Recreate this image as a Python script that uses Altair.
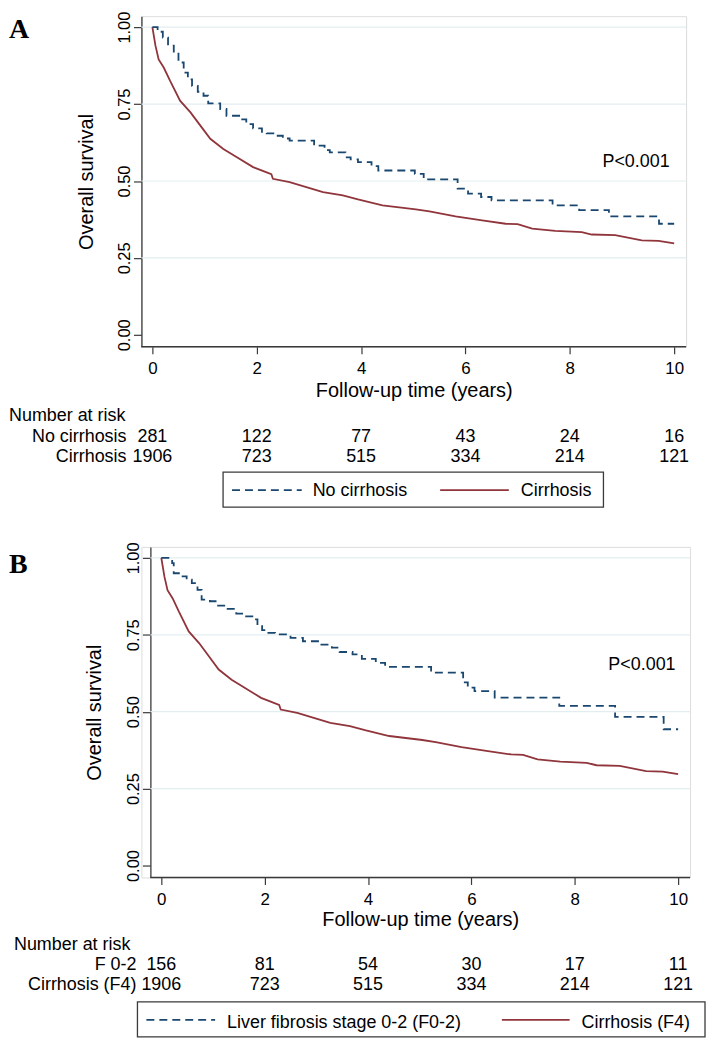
import altair as alt
import pandas as pd

# ---------------- data ----------------
years = [0, 2, 4, 6, 8, 10]
y_ticks = [0.0, 0.25, 0.5, 0.75, 1.0]
grid_levels = [0.25, 0.5, 0.75, 1.0]

# Cirrhosis (same curve in both panels)
cirr_t = [0, 0.06, 0.12, 0.22, 0.34, 0.53, 0.73, 0.92, 1.11, 1.36, 1.62, 1.93, 2.19,
          2.28, 2.31, 2.63, 2.95, 3.27, 3.65, 3.94, 4.41, 5.05, 5.31, 5.81, 6.32,
          6.77, 7.0, 7.28, 7.72, 8.23, 8.42, 8.87, 9.38, 9.7, 10.0]
cirr_s = [1.0, 0.939, 0.895, 0.868, 0.825, 0.761, 0.723, 0.680, 0.637, 0.604, 0.577,
          0.545, 0.528, 0.522, 0.507, 0.496, 0.480, 0.464, 0.453, 0.440, 0.421, 0.408,
          0.401, 0.385, 0.372, 0.361, 0.360, 0.345, 0.338, 0.334, 0.326, 0.324, 0.307,
          0.305, 0.297]

# No cirrhosis (panel A)
nocirr_t = [0, 0.1, 0.2, 0.3, 0.41, 0.5, 0.6, 0.68, 0.76, 0.87, 0.98, 1.07, 1.30, 1.42,
            1.70, 1.80, 1.93, 2.10, 2.19, 2.38, 2.50, 2.63, 3.10, 3.30, 3.40, 3.70,
            3.80, 3.94, 4.20, 4.33, 5.03, 5.20, 5.85, 6.05, 6.30, 6.50, 7.67, 8.18,
            8.75, 9.71, 10.0]
nocirr_s = [1.0, 0.985, 0.966, 0.940, 0.917, 0.885, 0.852, 0.830, 0.809, 0.790, 0.777,
            0.752, 0.734, 0.712, 0.700, 0.685, 0.671, 0.660, 0.655, 0.647, 0.638, 0.631,
            0.615, 0.600, 0.593, 0.577, 0.570, 0.561, 0.548, 0.534, 0.523, 0.505, 0.475,
            0.459, 0.448, 0.437, 0.421, 0.405, 0.385, 0.361, 0.361]

# Liver fibrosis stage 0-2 (panel B)
f02_t = [0, 0.21, 0.24, 0.37, 0.49, 0.59, 0.70, 0.78, 0.94, 1.05, 1.25, 1.45, 1.62,
         1.80, 1.86, 1.95, 2.04, 2.20, 2.50, 2.74, 3.05, 3.30, 3.45, 3.70, 3.88, 4.15,
         4.33, 5.22, 5.84, 5.93, 6.06, 6.45, 7.70, 8.78, 9.72, 10.0]
f02_s = [1.0, 0.983, 0.950, 0.940, 0.929, 0.918, 0.896, 0.864, 0.859, 0.845, 0.834,
         0.819, 0.810, 0.800, 0.778, 0.765, 0.756, 0.751, 0.740, 0.729, 0.718, 0.708,
         0.694, 0.686, 0.672, 0.659, 0.646, 0.627, 0.595, 0.578, 0.567, 0.546, 0.519,
         0.483, 0.443, 0.443]

risk_nocirr = [281, 122, 77, 43, 24, 16]
risk_f02 = [156, 81, 54, 30, 17, 11]
risk_cirr = [1906, 723, 515, 334, 214, 121]

# ---------------- styles ----------------
BLUE = "#1A476F"
RED = "#90353B"
AXC = "#3a3a3a"
GRID = "#E3EDF0"
FONT = "Liberation Sans"
DASH = [8, 5]
YDOM = [-0.0388, 1.0356]


def one(**kw):
    return pd.DataFrame([kw])


def panel(letter, width, height, xdom, yshift, curve_t, curve_s, curve_name, risk_top,
          row_labels, p_pos, g):
    xs = alt.Scale(domain=xdom, nice=False, zero=False)
    ys = alt.Scale(domain=YDOM, nice=False, zero=False)
    xaxis = alt.Axis(values=years, format="d", labelFontSize=17, labelColor="black",
                     labelFont=FONT, tickSize=7, tickColor=AXC, tickWidth=1.2,
                     domain=False, labelPadding=7, grid=False,
                     labelFlush=False, labelAngle=0, title="Follow-up time (years)",
                     titleFontSize=20, titleFontWeight="normal", titleColor="black",
                     titleFont=FONT, titleX=(width + yshift) / 2, titleY=g["xtitleY"],
                     titleAlign="center", titleBaseline="alphabetic")
    yaxis = alt.Axis(values=y_ticks, format=".2f", labelFontSize=16.5, labelColor="black",
                     labelFont=FONT, labelAngle=270, labelAlign="center",
                     labelBaseline="bottom", tickSize=8, tickColor=AXC, tickWidth=1.2,
                     domainColor=AXC, domainWidth=1.3, labelPadding=1, grid=False,
                     labelFlush=False, offset=-yshift, title="Overall survival",
                     titleFontSize=20, titleFontWeight="normal", titleColor="black",
                     titleFont=FONT, titleAngle=270, titleX=g["ytitleX"],
                     titleY=height / 2, titleAlign="center", titleBaseline="alphabetic")

    def X(f="t"):
        return alt.X(f"{f}:Q", scale=xs, axis=xaxis)

    def Y(f="s"):
        return alt.Y(f"{f}:Q", scale=ys, axis=yaxis)

    grid = alt.Chart(pd.DataFrame({"s": grid_levels})).mark_rule(
        color=GRID, strokeWidth=1.2).encode(y=Y(), x=alt.value(yshift), x2=alt.value(width))

    xline = alt.Chart(one(k=0)).mark_rule(color=AXC, strokeWidth=1.3).encode(
        x=alt.value(yshift), x2=alt.value(width), y=alt.value(height))

    cirr = alt.Chart(pd.DataFrame({"t": cirr_t, "s": cirr_s})).mark_line(
        color=RED, strokeWidth=1.8, interpolate="linear").encode(x=X(), y=Y())
    other = alt.Chart(pd.DataFrame({"t": curve_t, "s": curve_s})).mark_line(
        color=BLUE, strokeWidth=1.8, strokeDash=DASH, interpolate="step-after"
    ).encode(x=X(), y=Y())

    ptext = alt.Chart(one(t=p_pos[0], s=p_pos[1], lab="P<0.001")).mark_text(
        fontSize=18, font=FONT, color="black", align="center", baseline="middle"
    ).encode(x=X(), y=Y(), text="lab:N")

    letter_l = alt.Chart(one(lab=letter)).mark_text(
        font="Liberation Serif", fontWeight="bold", fontSize=28, color="black",
        align="left", baseline="alphabetic"
    ).encode(x=alt.value(g["letter"][0]), y=alt.value(g["letter"][1]), text="lab:N")

    nar = alt.Chart(one(lab="Number at risk")).mark_text(
        font=FONT, fontSize=18, color="black", align="left", baseline="alphabetic"
    ).encode(x=alt.value(g["nar"][0]), y=alt.value(g["nar"][1]), text="lab:N")

    layers = [grid, xline, cirr, other, ptext, letter_l, nar]

    for lab, vals, yy in [(row_labels[0], risk_top, g["rows"][1]),
                          (row_labels[1], risk_cirr, g["rows"][2])]:
        layers.append(alt.Chart(one(lab=lab)).mark_text(
            font=FONT, fontSize=18, color="black", align="right", baseline="alphabetic"
        ).encode(x=alt.value(g["rows"][0]), y=alt.value(yy), text="lab:N"))
        layers.append(alt.Chart(pd.DataFrame({"t": years, "n": vals})).mark_text(
            font=FONT, fontSize=18, color="black", align="center", baseline="alphabetic"
        ).encode(x=X(), y=alt.value(yy), text="n:N"))

    # legend box
    lb = g["legend"]
    layers.append(alt.Chart(one(k=0)).mark_rect(
        fillOpacity=0, stroke=AXC, strokeWidth=1.3
    ).encode(x=alt.value(lb["box"][0]), x2=alt.value(lb["box"][1]),
             y=alt.value(lb["box"][2]), y2=alt.value(lb["box"][3])))
    layers.append(alt.Chart(one(k=0)).mark_rule(
        color=BLUE, strokeWidth=1.8, strokeDash=DASH
    ).encode(x=alt.value(lb["l1"][0]), x2=alt.value(lb["l1"][1]), y=alt.value(lb["ly"])))
    layers.append(alt.Chart(one(k=0)).mark_rule(
        color=RED, strokeWidth=1.8
    ).encode(x=alt.value(lb["l2"][0]), x2=alt.value(lb["l2"][1]), y=alt.value(lb["ly"])))
    for lab, xx in [(curve_name, lb["t1"]), (row_labels[2], lb["t2"])]:
        layers.append(alt.Chart(one(lab=lab)).mark_text(
            font=FONT, fontSize=18, color="black", align="left", baseline="alphabetic"
        ).encode(x=alt.value(xx), y=alt.value(lb["ty"]), text="lab:N"))

    return alt.layer(*layers).properties(width=width, height=height)


geomA = {
    "xtitleY": 50, "ytitleX": -49,
    "letter": (-133, 22), "nar": (-133, 407), "rows": (-15, 428, 448),
    "legend": {"box": (82, 464, 458, 493), "l1": (91, 161), "l2": (300, 369),
               "ly": 476, "t1": 172, "t2": 381, "ty": 482},
}
geomB = {
    "xtitleY": 48, "ytitleX": -50,
    "letter": (-133, 26), "nar": (-128, 405), "rows": (-5, 425, 445),
    "legend": {"box": (-4, 566, 457, 492), "l1": (5, 74), "l2": (362, 430),
               "ly": 475, "t1": 86, "t2": 442, "ty": 483},
}

panelA = panel("A", 547, 332, [-0.21, 10.229], 0, nocirr_t, nocirr_s, "No cirrhosis",
               risk_nocirr, ["No cirrhosis", "Cirrhosis", "Cirrhosis"], (9.27, 0.56), geomA)
panelB = panel("B", 551, 332, [-0.385, 10.231], 9, f02_t, f02_s,
               "Liver fibrosis stage 0-2 (F0-2)", risk_f02,
               ["F 0-2", "Cirrhosis (F4)", "Cirrhosis (F4)"], (9.3, 0.652), geomB)

chart = alt.vconcat(panelA, panelB, spacing=32).properties(padding=0).configure_view(
    stroke=None).configure(font=FONT, background="white")

chart.save("out.html", embed_options={"renderer": "svg", "actions": False})
